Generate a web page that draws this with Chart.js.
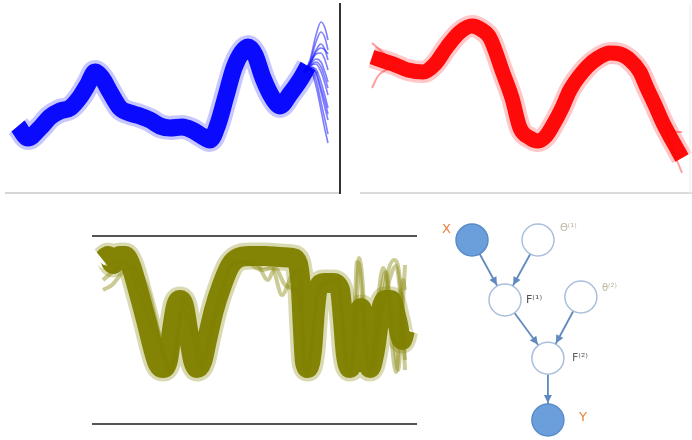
<!DOCTYPE html>
<html>
<head>
<meta charset="utf-8">
<script src="https://cdn.jsdelivr.net/npm/chart.js@4.4.1/dist/chart.umd.min.js"></script>
<style>
  body { margin: 0; background: #fff; width: 692px; height: 440px; position: relative; overflow: hidden; }
  canvas { position: absolute; }
</style>
</head>
<body>
<canvas id="bluePanel" width="345" height="200" style="left:0;top:0"></canvas>
<canvas id="redPanel" width="347" height="200" style="left:345px;top:0"></canvas>
<canvas id="olivePanel" width="340" height="220" style="left:80px;top:220px"></canvas>
<canvas id="graphPanel" width="272" height="230" style="left:420px;top:210px"></canvas>
<script>
// ---- blue samples (mean path + spread at the right end) ----
let blueT = [18, 28, 40, 50, 60, 70, 80, 88, 95, 102, 110, 120, 130, 140, 150, 160, 170, 182, 192, 202, 210, 218, 226, 234, 242, 248, 255, 263, 272, 280, 290, 300, 308];
let blueMean = [74, 62, 72, 83, 89, 92, 103, 116, 128, 122, 108, 92, 87, 84, 80, 74, 72, 73, 70, 64, 60, 76, 104, 132, 148, 153, 145, 122, 103, 94, 106, 120, 134];
let blueFanT = [304, 310, 316, 321, 325, 328];
let blueFan = [
    [128, 140, 165, 178, 172, 160],
    [128, 138, 158, 168, 162, 150],
    [128, 137, 150, 156, 150, 140],
    [128, 136, 146, 147, 140, 130],
    [128, 135, 141, 138, 128, 118],
    [128, 134, 136, 128, 116, 105],
    [128, 133, 131, 118, 104, 92],
    [128, 132, 126, 108, 92, 80],
    [128, 131, 120, 98, 80, 66],
    [128, 130, 114, 90, 70, 57],
    [128, 136, 148, 152, 150, 146],
    [128, 134, 138, 133, 122, 112],
    [128, 133, 128, 112, 98, 86]
];

// ---- red samples ----
let redT = [372, 393, 408, 423, 435, 447, 460, 472, 482, 490, 503, 512, 520, 530, 538, 546, 553, 562, 570, 587, 598, 610, 620, 630, 640, 647, 655, 663, 672, 682];
let redMean = [143, 136, 130, 128, 136, 153, 168, 174, 170, 162, 127, 102, 72, 62, 59, 64, 75, 92, 110, 133, 142, 147, 146, 140, 128, 112, 95, 77, 60, 42];
let redStrayT = [[372, 380, 390, 400], [372, 378, 386, 396], [665, 672, 678, 682], [665, 672, 678, 682]];
let redStray = [[157, 150, 142, 137], [112, 124, 130, 132], [80, 70, 68, 68], [72, 52, 37, 27]];

// ---- olive samples ----
let oliveT = [103, 108, 113, 120, 125, 131, 138, 146, 153, 158, 163, 168, 172, 176, 180, 184, 188, 193, 197, 202, 207, 214, 222, 230, 238, 250, 265, 280, 293, 298, 301, 303, 305, 308, 312, 315, 318, 324, 333, 340, 343, 346, 350, 355, 358, 361, 364, 367, 370, 375, 380, 385, 391, 397, 402, 405];
let oliveMean = [180, 184, 176, 184, 184, 174, 150, 120, 92, 76, 72, 80, 110, 134, 140, 134, 110, 80, 72, 78, 100, 130, 155, 174, 182, 184, 184, 183, 182, 176, 150, 110, 78, 72, 90, 130, 152, 157, 157, 150, 120, 85, 72, 90, 120, 132, 120, 85, 72, 90, 125, 140, 140, 120, 100, 110];
let oliveStrayT = [
    [103, 115, 125, 135, 145, 155, 163, 170, 176, 182, 188, 195, 200, 206, 214, 222, 228, 240, 255, 268, 275, 285, 295, 300, 304, 308, 313, 318, 330, 340, 346, 351, 355, 357, 360, 365, 370, 380, 388, 396, 400, 405],
    [103, 112, 125, 135, 148, 158, 165, 170, 176, 184, 190, 198, 203, 209, 218, 226, 234, 245, 262, 272, 282, 292, 300, 305, 312, 318, 330, 338, 344, 350, 356, 359, 362, 368, 374, 384, 394, 400, 405],
    [370, 376, 381, 386, 390, 394, 398, 402, 405],
    [372, 378, 383, 388, 392, 396, 400, 403, 405],
    [103, 110, 120, 130, 140, 150, 158, 166, 172]
];
let oliveStray = [
    [160, 170, 178, 168, 148, 120, 90, 68, 90, 130, 122, 95, 72, 90, 122, 140, 170, 178, 178, 160, 172, 155, 150, 140, 80, 68, 110, 150, 158, 148, 80, 68, 140, 178, 170, 100, 68, 120, 155, 174, 150, 80],
    [150, 155, 170, 172, 150, 110, 80, 68, 95, 140, 130, 100, 72, 95, 140, 162, 178, 178, 170, 172, 145, 165, 170, 70, 95, 148, 160, 160, 100, 68, 120, 182, 165, 78, 75, 150, 180, 160, 70],
    [72, 110, 150, 168, 140, 100, 70, 120, 175],
    [75, 140, 172, 150, 95, 68, 110, 160, 150],
    [172, 176, 180, 170, 145, 118, 100, 80, 68]
];

// ---- graphical model ----
let nodeNames = ['X', 'Θ⁽¹⁾', 'F⁽¹⁾', 'θ⁽²⁾', 'F⁽²⁾', 'Y'];
let nodeCol = [0, 2, 1, 3.3, 2.3, 2.3];
let nodeRow = [3, 3, 2, 2.05, 1.03, 0];
let nodeObserved = [true, false, false, false, false, true];
let edgeFrom = [0, 1, 2, 3, 4];
let edgeTo = [2, 2, 4, 4, 5];

function Zip(xs, ys) {
    return xs.map(function (x, i) { return { x: x, y: ys[i] }; });
}

function RulesPlugin(lines) {
    return {
        id: 'rules',
        afterDraw: function (chart) {
            let ctx = chart.ctx;
            lines.forEach(function (l) {
                ctx.save();
                ctx.strokeStyle = l.color;
                ctx.lineWidth = l.width;
                ctx.beginPath();
                ctx.moveTo(l.x1, l.y1);
                ctx.lineTo(l.x2, l.y2);
                ctx.stroke();
                ctx.restore();
            });
        }
    };
}

function GetPanelOptions(xMin, xMax, yMin, yMax) {
    return {
        responsive: false,
        animation: false,
        events: [],
        layout: { padding: 0, autoPadding: false },
        plugins: { legend: { display: false }, tooltip: { enabled: false } },
        elements: {
            point: { radius: 0 },
            line: { cubicInterpolationMode: 'monotone', fill: false, borderJoinStyle: 'round' }
        },
        scales: {
            x: { type: 'linear', display: false, min: xMin, max: xMax },
            y: { display: false, min: yMin, max: yMax }
        }
    };
}

function BandDatasets(xs, ys, core, halo, width) {
    return [
        { data: Zip(xs, ys), borderColor: core, borderWidth: width },
        { data: Zip(xs, ys), borderColor: halo, borderWidth: width + 7 }
    ];
}

// blue panel
let blueSets = BandDatasets(blueT, blueMean, 'rgba(0,0,255,0.95)', 'rgba(0,0,255,0.22)', 17);
blueFan.forEach(function (ys) {
    blueSets.push({ data: Zip(blueFanT, ys), borderColor: 'rgba(20,20,255,0.55)', borderWidth: 1.6 });
});
new Chart(document.getElementById('bluePanel'), {
    type: 'line',
    data: { datasets: blueSets },
    options: GetPanelOptions(0, 345, 0, 200),
    plugins: [RulesPlugin([
        { x1: 5, y1: 193, x2: 340, y2: 193, color: '#c8c8c8', width: 1.5 },
        { x1: 340, y1: 3, x2: 340, y2: 194, color: '#333', width: 2 }
    ])]
});

// red panel
let redSets = BandDatasets(redT, redMean, 'rgba(255,0,0,0.95)', 'rgba(255,0,0,0.22)', 15);
redStray.forEach(function (ys, i) {
    redSets.push({ data: Zip(redStrayT[i], ys), borderColor: 'rgba(255,40,40,0.45)', borderWidth: 2 });
});
new Chart(document.getElementById('redPanel'), {
    type: 'line',
    data: { datasets: redSets },
    options: GetPanelOptions(345, 692, 0, 200),
    plugins: [RulesPlugin([
        { x1: 15, y1: 193, x2: 347, y2: 193, color: '#cfcfcf', width: 1.5 },
        { x1: 345, y1: 5, x2: 345, y2: 193, color: '#ececec', width: 1 }
    ])]
});

// olive panel
let oliveSets = BandDatasets(oliveT, oliveMean, 'rgba(128,128,0,0.97)', 'rgba(128,128,0,0.3)', 20);
oliveStray.forEach(function (ys, i) {
    oliveSets.push({ data: Zip(oliveStrayT[i], ys), borderColor: 'rgba(140,140,20,0.45)', borderWidth: 4 });
});
new Chart(document.getElementById('olivePanel'), {
    type: 'line',
    data: { datasets: oliveSets },
    options: GetPanelOptions(80, 420, 0, 220),
    plugins: [RulesPlugin([
        { x1: 12, y1: 16, x2: 337, y2: 16, color: '#1a1a1a', width: 1.5 },
        { x1: 12, y1: 204, x2: 337, y2: 204, color: '#555', width: 2 }
    ])]
});

// graphical model
let labelStyle = [
    { dx: -30, dy: -10, color: '#e6823a', font: '13px "DejaVu Sans"' },
    { dx: 22, dy: -12, color: '#bdb5a0', font: '10px "DejaVu Sans"' },
    { dx: 21, dy: 0, color: '#505050', font: '11px "DejaVu Sans"' },
    { dx: 21, dy: -9, color: '#bdb5a0', font: '10px "DejaVu Sans"' },
    { dx: 24, dy: 0, color: '#606060', font: '11px "DejaVu Sans"' },
    { dx: 31, dy: -2, color: '#e6823a', font: '13px "DejaVu Sans"' }
];
let nodeRadius = 16;

let graphSets = [{
    data: Zip(nodeCol, nodeRow),
    pointRadius: nodeRadius,
    pointBackgroundColor: nodeObserved.map(function (o) { return o ? '#6b9fdb' : '#ffffff'; }),
    pointBorderColor: nodeObserved.map(function (o) { return o ? '#5a8cc8' : '#a9bfdc'; }),
    pointBorderWidth: 1.5
}];
edgeFrom.forEach(function (f, i) {
    let t = edgeTo[i];
    graphSets.push({
        data: [{ x: nodeCol[f], y: nodeRow[f] }, { x: nodeCol[t], y: nodeRow[t] }],
        showLine: true,
        borderColor: '#5f89bf',
        borderWidth: 1.8,
        pointRadius: 0
    });
});

let graphDecor = {
    id: 'graphDecor',
    afterDatasetsDraw: function (chart) {
        let ctx = chart.ctx;
        let xs = chart.scales.x, ys = chart.scales.y;
        ctx.save();
        edgeFrom.forEach(function (f, i) {
            let t = edgeTo[i];
            let x1 = xs.getPixelForValue(nodeCol[f]), y1 = ys.getPixelForValue(nodeRow[f]);
            let x2 = xs.getPixelForValue(nodeCol[t]), y2 = ys.getPixelForValue(nodeRow[t]);
            let len = Math.hypot(x2 - x1, y2 - y1);
            let ux = (x2 - x1) / len, uy = (y2 - y1) / len;
            let tipX = x2 - ux * (nodeRadius + 1), tipY = y2 - uy * (nodeRadius + 1);
            ctx.fillStyle = '#5f89bf';
            ctx.beginPath();
            ctx.moveTo(tipX, tipY);
            ctx.lineTo(tipX - ux * 8 - uy * 4, tipY - uy * 8 + ux * 4);
            ctx.lineTo(tipX - ux * 8 + uy * 4, tipY - uy * 8 - ux * 4);
            ctx.closePath();
            ctx.fill();
        });
        ctx.textBaseline = 'middle';
        ctx.textAlign = 'left';
        nodeNames.forEach(function (name, i) {
            let s = labelStyle[i];
            ctx.font = s.font;
            ctx.fillStyle = s.color;
            ctx.fillText(name, xs.getPixelForValue(nodeCol[i]) + s.dx, ys.getPixelForValue(nodeRow[i]) + s.dy);
        });
        ctx.restore();
    }
};

let graphOptions = GetPanelOptions(-1.576, 6.667, -0.333, 3.5);
graphOptions.elements.line.cubicInterpolationMode = 'default';
new Chart(document.getElementById('graphPanel'), {
    type: 'scatter',
    data: { datasets: graphSets },
    options: graphOptions,
    plugins: [graphDecor]
});
</script>
</body>
</html>
